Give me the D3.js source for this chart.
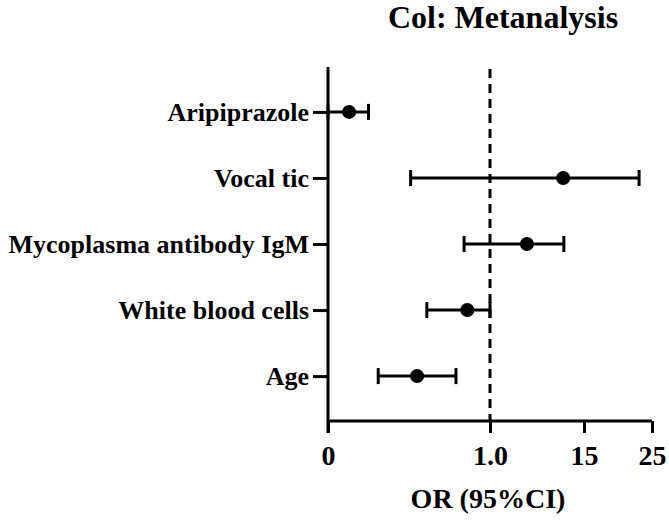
<!DOCTYPE html>
<html>
<head>
<meta charset="utf-8">
<script src="https://cdn.jsdelivr.net/npm/d3@7"></script>
<style>
body { margin: 0; background: #fff; }
text { font-family: "Liberation Serif", "Times New Roman", serif; font-weight: bold; fill: #000; }
</style>
</head>
<body>
<svg id="chart" width="669" height="522"></svg>
<script>
// forest plot values
var labels = ['Aripiprazole', 'Vocal tic', 'Mycoplasma antibody IgM', 'White blood cells', 'Age'];
var orValues = [0.13, 11.9, 6.5, 0.86, 0.55];
var ciLow = [0.0, 0.51, 0.84, 0.61, 0.31];
var ciHigh = [0.25, 23.1, 12.0, 1.0, 0.79];
var xTicks = [0, 1, 15, 25];
var xTickLabels = ['0', '1.0', '15', '25'];

var svg = d3.select('#chart');
var plotLeft = 328, plotRight = 652, plotTop = 67, plotBottom = 421;

// segmented axis, as in the original figure
var x = d3.scaleLinear()
	.domain([0, 1, 15, 25])
	.range([plotLeft, 490, 584, plotRight]);

var y = d3.scalePoint()
	.domain(labels)
	.range([plotTop, plotBottom])
	.padding(0.68);

// reference line at OR = 1
svg.append('line')
	.attr('x1', x(1)).attr('x2', x(1))
	.attr('y1', plotTop + 2).attr('y2', plotBottom)
	.attr('stroke', '#000')
	.attr('stroke-width', 3)
	.attr('stroke-dasharray', '9,6');

var xAxis = svg.append('g')
	.attr('transform', 'translate(0,' + plotBottom + ')')
	.call(d3.axisBottom(x).tickValues(xTicks).tickSize(12).tickPadding(12)
		.tickFormat(function(d, i){ return xTickLabels[i]; }));
xAxis.select('.domain').attr('stroke-width', 3).attr('d', 'M' + plotLeft + ',0H' + plotRight);
xAxis.selectAll('.tick line').attr('stroke-width', 3);
xAxis.selectAll('.tick text').attr('font-size', 28).attr('dy', '0.71em');

var yAxis = svg.append('g')
	.attr('transform', 'translate(' + plotLeft + ',0)')
	.call(d3.axisLeft(y).tickSize(15).tickPadding(4));
yAxis.select('.domain').attr('stroke-width', 3).attr('d', 'M0,' + plotTop + 'V' + (plotBottom + 12));
yAxis.selectAll('.tick line').attr('stroke-width', 3);
yAxis.selectAll('.tick text').attr('font-size', 26);

var rows = svg.append('g').selectAll('g')
	.data(labels)
	.enter().append('g');

rows.append('line')
	.attr('x1', function(d, i){ return x(ciLow[i]); })
	.attr('x2', function(d, i){ return x(ciHigh[i]); })
	.attr('y1', function(d){ return y(d); })
	.attr('y2', function(d){ return y(d); })
	.attr('stroke', '#000').attr('stroke-width', 3);

rows.selectAll('.cap')
	.data(function(d, i){ return [{v: ciLow[i], c: d}, {v: ciHigh[i], c: d}]; })
	.enter().append('line')
	.attr('class', 'cap')
	.attr('x1', function(d){ return x(d.v); })
	.attr('x2', function(d){ return x(d.v); })
	.attr('y1', function(d){ return y(d.c) - 8; })
	.attr('y2', function(d){ return y(d.c) + 8; })
	.attr('stroke', '#000').attr('stroke-width', 3);

rows.append('circle')
	.attr('cx', function(d, i){ return x(orValues[i]); })
	.attr('cy', function(d){ return y(d); })
	.attr('r', 7)
	.attr('fill', '#000');

svg.append('text')
	.attr('x', 503).attr('y', 28)
	.attr('text-anchor', 'middle')
	.attr('font-size', 32)
	.text('Col: Metanalysis');

svg.append('text')
	.attr('x', 488).attr('y', 508)
	.attr('text-anchor', 'middle')
	.attr('font-size', 28)
	.text('OR (95%CI)');
</script>
</body>
</html>
